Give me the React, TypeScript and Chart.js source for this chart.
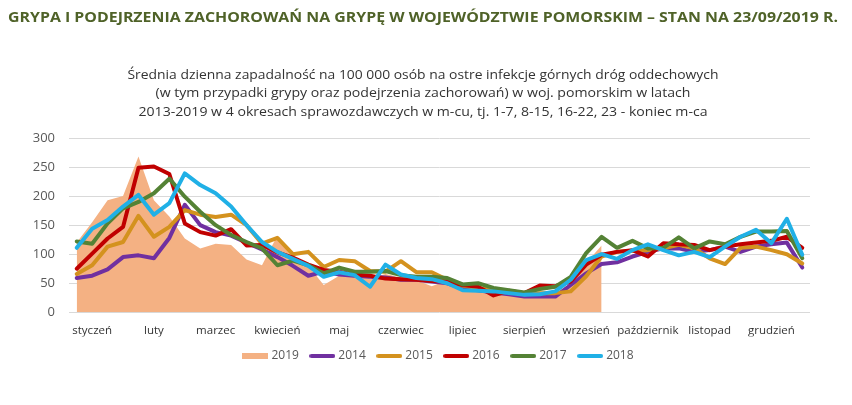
import React, { useEffect, useRef } from "react";
import { Chart, registerables } from "chart.js";

Chart.register(...registerables);

const TITLE = "GRYPA I PODEJRZENIA ZACHOROWAŃ NA GRYPĘ W WOJEWÓDZTWIE POMORSKIM – STAN NA 23/09/2019 R.";
const SUBTITLE = [
  "Średnia dzienna zapadalność na 100 000 osób na ostre infekcje górnych dróg oddechowych",
  "(w tym przypadki grypy oraz podejrzenia zachorowań) w woj. pomorskim w latach",
  "2013-2019 w 4 okresach sprawozdawczych w m-cu, tj. 1-7, 8-15, 16-22, 23 - koniec m-ca",
];

const months = ["styczeń", "luty", "marzec", "kwiecień", "maj", "czerwiec", "lipiec", "sierpień", "wrzesień", "październik", "listopad", "grudzień"];
const periods = ["1-7", "8-15", "16-22", "23-koniec"];
const categories = months.flatMap((m) => periods.map((p) => `${m} ${p}`));

const yTicks = [0, 50, 100, 150, 200, 250, 300];

const seriesLabels = ["2019", "2014", "2015", "2016", "2017", "2018"];

const v2019 = [120, 155, 193, 200, 268, 193, 165, 127, 110, 118, 116, 91, 81, 132, 94, 80, 47, 63, 70, 58, 66, 60, 55, 45, 55, 45, 40, 35, 32, 30, 30, 33, 50, 85, 115];
const v2014 = [59, 63, 74, 95, 98, 93, 128, 185, 150, 138, 132, 120, 108, 95, 80, 63, 70, 65, 63, 61, 60, 56, 56, 53, 50, 41, 38, 34, 31, 27, 27, 27, 47, 67, 83, 86, 96, 104, 110, 110, 104, 107, 113, 104, 113, 117, 120, 77];
const v2015 = [66, 81, 113, 121, 166, 130, 147, 176, 168, 164, 168, 150, 118, 128, 100, 104, 78, 90, 88, 71, 70, 88, 69, 69, 56, 46, 42, 38, 36, 31, 33, 33, 36, 62, 96, 104, 106, 107, 110, 116, 110, 93, 83, 111, 113, 107, 100, 84];
const v2016 = [75, 101, 127, 147, 249, 251, 238, 153, 138, 132, 143, 115, 116, 103, 94, 82, 73, 70, 65, 63, 58, 57, 56, 54, 53, 47, 44, 29, 37, 33, 46, 45, 53, 82, 99, 104, 107, 96, 119, 117, 116, 107, 113, 117, 120, 123, 130, 111];
const v2017 = [122, 118, 153, 179, 190, 205, 230, 199, 173, 150, 133, 121, 110, 81, 89, 81, 67, 77, 70, 70, 71, 64, 61, 61, 59, 48, 50, 42, 38, 34, 40, 44, 61, 102, 130, 111, 123, 110, 111, 129, 110, 122, 117, 130, 139, 139, 140, 93];
const v2018 = [111, 144, 159, 182, 202, 168, 188, 239, 219, 205, 182, 150, 121, 104, 92, 80, 61, 69, 64, 44, 82, 65, 59, 57, 50, 38, 37, 36, 33, 30, 31, 36, 56, 90, 100, 92, 107, 117, 107, 98, 104, 95, 113, 130, 142, 119, 161, 99];

const COLORS = ["#F4B183", "#7030A0", "#D4921E", "#C00000", "#548235", "#20B0E6"];
const FONT = '"Open Sans", "DejaVu Sans", sans-serif';

function makeSymbol(kind: string, color: string) {
  const c = document.createElement("canvas");
  c.width = 26;
  c.height = 8;
  const g = c.getContext("2d")!;
  if (kind === "box") {
    g.fillStyle = color;
    g.fillRect(0, 1, 26, 6);
  } else {
    g.strokeStyle = color;
    g.lineWidth = 4;
    g.lineCap = "round";
    g.beginPath();
    g.moveTo(2, 4);
    g.lineTo(24, 4);
    g.stroke();
  }
  return c;
}

function drawFit(ctx: CanvasRenderingContext2D, text: string, cx: number, cy: number, target: number, font: string, color: string) {
  ctx.save();
  ctx.font = font;
  ctx.fillStyle = color;
  ctx.textAlign = "center";
  ctx.textBaseline = "middle";
  const w = ctx.measureText(text).width;
  ctx.translate(cx, cy);
  ctx.scale(target / w, 1);
  ctx.fillText(text, 0, 0);
  ctx.restore();
}

const headerPlugin = {
  id: "header",
  afterDraw(chart: any) {
    const ctx = chart.ctx as CanvasRenderingContext2D;
    drawFit(ctx, TITLE, 423, 18, 830, `bold 14px ${FONT}`, "#4F6228");
    const widths = [591, 535, 569];
    SUBTITLE.forEach((t, i) => drawFit(ctx, t, 423, 75 + i * 18.5, widths[i], `13px ${FONT}`, "#333333"));
  },
};

export default function App() {
  const ref = useRef<HTMLCanvasElement>(null);

  useEffect(() => {
    document.body.style.margin = "0";
    const values = [v2019, v2014, v2015, v2016, v2017, v2018];
    const datasets: any[] = values.map((data, i) =>
      i === 0
        ? {
            label: seriesLabels[i],
            data,
            fill: "origin",
            backgroundColor: COLORS[i],
            borderColor: COLORS[i],
            borderWidth: 0,
            pointRadius: 0,
            order: 10,
          }
        : {
            label: seriesLabels[i],
            data,
            fill: false,
            borderColor: COLORS[i],
            backgroundColor: COLORS[i],
            borderWidth: 4,
            borderJoinStyle: "round",
            borderCapStyle: "round",
            pointRadius: 0,
            tension: 0,
            order: 10 - i,
          }
    );

    const chart = new Chart(ref.current!, {
      type: "line",
      data: { labels: categories, datasets },
      options: {
        animation: false,
        responsive: false,
        layout: { padding: { top: 138, left: 0, right: 42, bottom: 33 } },
        plugins: {
          tooltip: { enabled: false },
          legend: {
            position: "bottom",
            fullSize: false,
            labels: {
              usePointStyle: true,
              pointStyleWidth: 20,
              boxHeight: 12,
              padding: 13.5,
              color: "#595959",
              font: { family: FONT, size: 12 },
              generateLabels: (ch: any) =>
                ch.data.datasets.map((ds: any, i: number) => ({
                  text: ds.label,
                  pointStyle: makeSymbol(i === 0 ? "box" : "line", COLORS[i]),
                  fillStyle: COLORS[i],
                  strokeStyle: COLORS[i],
                  lineWidth: 0,
                  hidden: false,
                  datasetIndex: i,
                  fontColor: "#595959",
                })),
            },
          },
        },
        scales: {
          x: {
            offset: true,
            grid: { display: false, drawTicks: false },
            border: { display: false },
            afterFit: (s: any) => {
              s.height = 24.2;
            },
            ticks: {
              autoSkip: false,
              maxRotation: 0,
              minRotation: 0,
              padding: 12,
              color: "#333333",
              font: { family: FONT, size: 11.5 },
              callback: (_v: any, i: number) => (i % 4 === 1 ? months[(i - 1) / 4] : ""),
            },
          },
          y: {
            min: 0,
            max: 300,
            afterFit: (s: any) => {
              s.width = 69;
            },
            afterBuildTicks: (s: any) => {
              s.ticks = yTicks.map((v) => ({ value: v }));
            },
            grid: { color: "#D9D9D9", lineWidth: 1, drawTicks: false },
            border: { display: false },
            ticks: {
              padding: 14,
              color: "#595959",
              font: { family: FONT, size: 13 },
            },
          },
        },
      },
      plugins: [headerPlugin],
    });
    return () => chart.destroy();
  }, []);

  return (
    <div style={{ position: "fixed", left: 0, top: 0, width: 852, height: 405, background: "#fff" }}>
      <canvas ref={ref} width={852} height={405} style={{ display: "block" }} />
    </div>
  );
}
